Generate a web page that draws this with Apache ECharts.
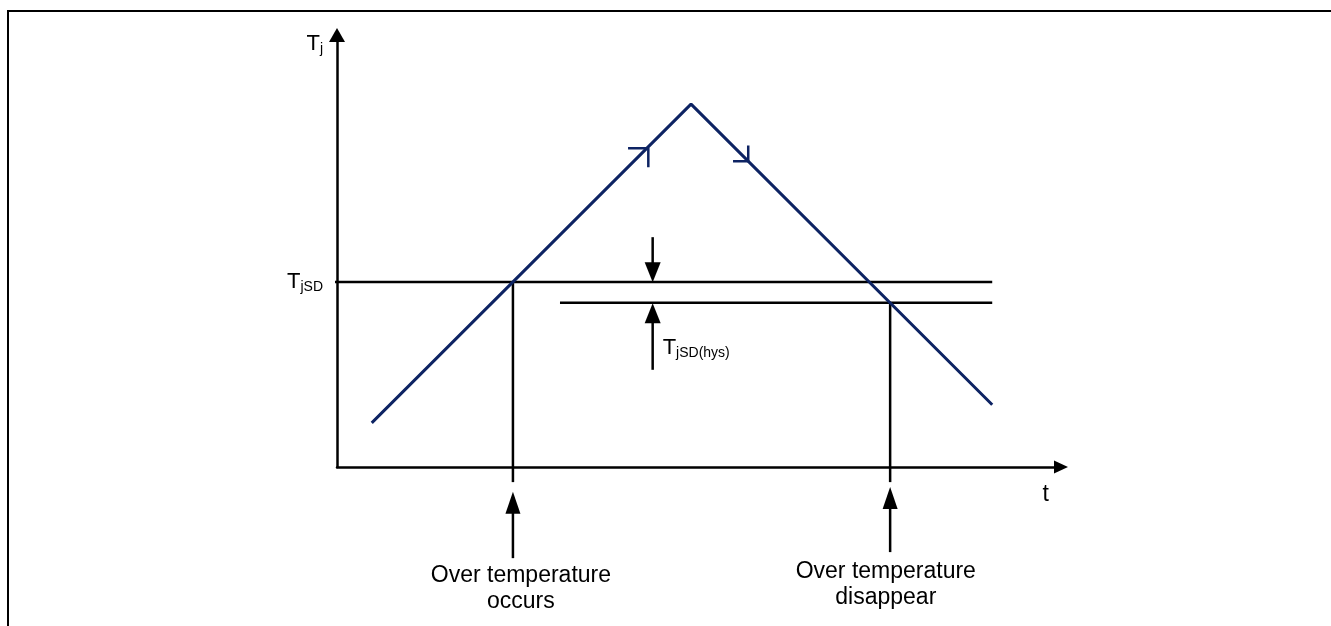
<!DOCTYPE html>
<html>
<head>
<meta charset="utf-8">
<script src="https://cdn.jsdelivr.net/npm/echarts@6/dist/echarts.min.js"></script>
<style>
html, body { margin: 0; padding: 0; background: #fff; }
#chart { width: 1331px; height: 626px; }
</style>
</head>
<body>
<div id="chart"></div>
<script>
// t and Tj both run 0..100 (arbitrary units)
const tjCurve = [[4.8, 10.2], [48.9, 84.0], [90.5, 14.4]];
const riseMark = [[40.2, 73.8], [43.0, 73.8], [43.0, 69.4]];
const fallMark = [[54.7, 70.8], [56.8, 70.8], [56.8, 74.4]];
const tjsdLine = [[-1.7, 42.8], [90.5, 42.8]];
const hysLine = [[30.8, 38.0], [90.5, 38.0]];
const occursDrop = [[24.3, 42.8], [24.3, -3.5]];
const disappearDrop = [[76.4, 38.0], [76.4, -3.5]];
const occursArrow = [[24.3, -21.1], [24.3, -8.3]];
const disappearArrow = [[76.4, -19.7], [76.4, -7.2]];
const hysDownArrow = [[43.6, 53.2], [43.6, 45.1]];
const hysUpArrow = [[43.6, 22.5], [43.6, 35.6]];

const labelTexts = ['{m|T}{s|j}', '{m|T}{s|jSD}', '{m|T}{s|jSD(hys)}', 't',
    'Over temperature\noccurs', 'Over temperature\ndisappear'];
const labelAnchors = [[0, 97.9], [0, 42.8], [43.6, 27.5], [97.9, -6.3], [25.4, -22.0], [75.8, -21.1]];
const labelSides = ['left', 'left', 'right', 'inside', 'bottom', 'bottom'];

const FONT = '"Liberation Sans", Arial, sans-serif';
const NAVY = '#0d2363';

const plainLine = (data, color, width) => ({
    type: 'line',
    data: data,
    clip: false,
    silent: true,
    symbol: 'none',
    lineStyle: { color: color, width: width },
});

/** line with a filled triangle head at its second point */
const arrowLine = (pts, size, rotate) => ({
    type: 'line',
    clip: false,
    silent: true,
    lineStyle: { color: '#000', width: 2.5 },
    itemStyle: { color: '#000' },
    data: [
        { value: pts[0], symbol: 'none' },
        { value: pts[1], symbol: 'triangle', symbolSize: size, symbolRotate: rotate || 0 },
    ],
});

const rich = {
    m: { fontSize: 22, lineHeight: 24, fontFamily: FONT, color: '#000' },
    s: { fontSize: 14, lineHeight: 10, fontFamily: FONT, color: '#000', verticalAlign: 'bottom' },
};

const labelItems = labelTexts.map((txt, i) => ({
    value: labelAnchors[i],
    label: {
        show: true,
        position: labelSides[i],
        distance: labelSides[i] === 'bottom' ? 1 : (labelSides[i] === 'right' ? 10 : 14),
        formatter: txt,
        fontSize: 23,
        lineHeight: 26,
        fontFamily: FONT,
        color: '#000',
        align: labelSides[i] === 'left' ? 'right' : (labelSides[i] === 'right' ? 'left' : 'center'),
        rich: rich,
    },
}));

const chart = echarts.init(document.getElementById('chart'));
chart.setOption({
    animation: false,
    backgroundColor: '#fff',
    grid: { left: 337, right: 270, top: 35, bottom: 159 },
    xAxis: {
        type: 'value', min: 0, max: 100,
        axisLine: { show: true, symbol: ['none', 'triangle'], symbolSize: [13, 14],
            lineStyle: { color: '#000', width: 2.5 } },
        axisTick: { show: false }, axisLabel: { show: false }, splitLine: { show: false },
    },
    yAxis: {
        type: 'value', min: 0, max: 100,
        axisLine: { show: true, symbol: ['none', 'triangle'], symbolSize: [16, 14],
            lineStyle: { color: '#000', width: 2.5 } },
        axisTick: { show: false }, axisLabel: { show: false }, splitLine: { show: false },
    },
    graphic: [{
        type: 'polyline',
        shape: { points: [[8, 626], [8, 11], [1331, 11]] },
        style: { stroke: '#000', lineWidth: 2, fill: null },
        silent: true,
    }],
    series: [
        plainLine(tjsdLine, '#000', 2.5),
        plainLine(hysLine, '#000', 2.5),
        plainLine(occursDrop, '#000', 2.5),
        plainLine(disappearDrop, '#000', 2.5),
        plainLine(tjCurve, NAVY, 3),
        plainLine(riseMark, NAVY, 2.5),
        plainLine(fallMark, NAVY, 2.5),
        arrowLine(occursArrow, [15, 22]),
        arrowLine(disappearArrow, [15, 22]),
        arrowLine(hysDownArrow, [16, 20], 180),
        arrowLine(hysUpArrow, [16, 20]),
        {
            type: 'scatter',
            clip: false,
            silent: true,
            symbolSize: 0,
            itemStyle: { opacity: 1 },
            data: labelItems,
        },
    ],
});
</script>
</body>
</html>
